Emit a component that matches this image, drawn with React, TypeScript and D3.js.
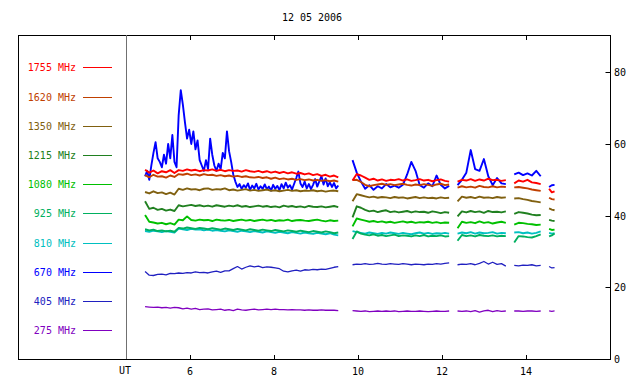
import React from 'react';
import * as d3 from 'd3';

// UT hours (start, end) of each observing segment
const segments: [number, number][] = [
  [4.93, 9.53],
  [9.87, 12.17],
  [12.37, 13.52],
  [13.72, 14.35],
  [14.55, 14.68],
];

const xTicks = [6, 8, 10, 12, 14];
const yTicks = [0, 20, 40, 60, 80];

const freqs = ['1755', '1620', '1350', '1215', '1080', '925', '810', '670', '405', '275'];
const colors = ['#ff0000', '#c04000', '#806010', '#208020', '#00c000', '#00b060', '#00c0c0', '#0000ff', '#2020c0', '#8000c0'];

const f1755 = [
  [52.8, 52.0, 52.6, 51.8, 52.4, 52.1, 52.7, 51.9,
    52.7, 52.5, 52.9, 52.6, 52.8, 52.4, 52.7, 52.6, 52.9, 52.5,
    52.8, 52.4, 52.7, 52.5, 52.6, 52.3, 52.7, 52.4, 52.2, 52.5,
    52.1, 52.4, 52.0, 52.3, 51.9, 52.2, 51.8, 52.1, 51.7, 51.9,
    51.5, 51.8, 51.3, 51.6, 51.1, 51.4, 50.9, 51.2, 50.7],
  [49.8, 51.6, 51.2, 50.6, 50.0, 50.3, 49.8, 50.1, 49.7, 50.0, 49.9, 50.2, 49.8, 50.1, 49.7, 49.9, 50.2, 49.8, 50.0, 49.6, 49.9, 50.1, 49.7, 49.5],
  [49.5, 50.0, 49.8, 50.2, 49.7, 50.1, 49.8, 50.3, 49.9, 50.0, 49.7, 49.9],
  [49.0, 49.8, 49.5, 50.0, 49.3, 49.1, 48.8],
  [47.5, 46.5, 46.8],
];

const f1620 = [
  [51.3, 50.7, 51.4, 50.9, 51.0, 50.6, 51.2, 50.8,
    51.6, 51.4, 51.7, 51.3, 51.5, 51.2, 51.6, 51.3, 51.4, 51.1,
    51.3, 51.0, 51.2, 50.9, 51.1, 50.8, 51.0, 50.7, 50.6, 50.8,
    50.5, 50.7, 50.3, 50.6, 50.2, 50.4, 50.1, 50.3, 50.0, 50.2,
    49.9, 50.1, 49.8, 50.0, 49.7, 49.9, 49.6, 49.8, 49.5],
  [49.9, 50.0, 49.4, 48.6, 48.2, 48.5, 48.7, 48.9, 48.6, 48.8, 48.5, 48.7, 48.9, 48.6, 48.4, 48.7, 48.5, 48.8, 48.6, 48.3, 48.7, 48.9, 48.5, 48.7],
  [47.8, 48.2, 47.9, 48.1, 47.8, 48.3, 48.0, 47.9, 48.2, 47.9, 48.1, 48.0],
  [47.9, 48.0, 47.8, 47.6, 47.3, 47.1, 46.9],
  [45.0, 44.6, 44.5],
];

const f1350 = [
  [46.6, 46.2, 46.8, 46.3, 46.5, 46.0, 46.4, 45.9,
    47.5, 47.2, 47.6, 47.3, 47.4, 47.1, 47.5, 47.6, 47.2, 47.4,
    47.3, 47.6, 47.1, 47.3, 47.0, 47.2, 47.4, 47.0, 47.2, 46.9,
    47.1, 47.3, 46.9, 47.1, 46.8, 47.0, 47.2, 46.9, 47.1, 46.8,
    47.0, 46.9, 47.1, 46.8, 47.0, 46.7, 46.9, 47.0, 46.8],
  [44.0, 46.0, 45.7, 45.4, 45.1, 45.3, 45.0, 45.2, 45.1, 44.9, 45.2, 45.0, 45.1, 44.8, 45.0, 45.2, 44.9, 45.1, 44.9, 45.0, 44.8, 45.1, 44.9, 45.0],
  [44.0, 45.3, 45.0, 45.2, 44.9, 45.3, 45.0, 45.1, 44.9, 45.2, 45.0, 45.1],
  [44.8, 44.9, 44.6, 44.4, 44.1, 43.9, 43.7],
  [42.0, 41.7, 41.5],
];

const f1215 = [
  [44.0, 41.9, 42.2, 41.6, 41.9, 41.4, 41.7, 41.3,
    42.9, 42.6, 42.8, 43.0, 42.7, 42.9, 42.6, 42.8, 42.5, 42.9,
    42.7, 42.5, 42.8, 42.6, 42.9, 42.5, 42.7, 42.4, 42.6, 42.8,
    42.5, 42.7, 42.4, 42.6, 42.3, 42.8, 42.5, 42.7, 42.4, 42.6,
    42.3, 42.7, 42.5, 42.4, 42.6, 42.3, 42.5, 42.7, 42.4],
  [39.5, 42.6, 42.2, 41.6, 41.2, 41.4, 41.0, 41.3, 41.5, 41.0, 41.2, 40.9, 41.1, 41.3, 40.9, 41.2, 41.0, 41.1, 40.8, 41.2, 41.0, 40.7, 41.0, 40.8],
  [39.8, 41.2, 40.9, 41.3, 41.0, 41.2, 40.8, 41.3, 41.0, 41.1, 40.9, 41.2],
  [40.5, 41.0, 40.8, 40.6, 40.3, 40.1, 40.2],
  [38.8, 38.6, 38.5],
];

const f1080 = [
  [40.2, 38.3, 38.1, 37.8, 38.0, 37.6, 37.9, 37.5,
    38.9, 38.7, 39.8, 38.8, 38.6, 38.9, 38.7, 38.8, 38.5, 38.9,
    38.7, 38.6, 38.8, 38.5, 38.7, 38.9, 38.6, 38.8, 38.5, 38.7,
    38.9, 38.6, 38.8, 38.5, 38.7, 38.6, 38.9, 38.5, 38.7, 38.8,
    38.6, 38.5, 38.7, 38.9, 38.6, 38.4, 38.7, 38.5, 38.6],
  [37.0, 39.2, 38.9, 38.6, 38.3, 38.5, 38.2, 38.4, 38.1, 38.3, 38.0, 38.2, 38.4, 38.1, 38.3, 38.0, 38.2, 38.1, 38.3, 38.0, 38.2, 37.9, 38.1, 38.0],
  [36.5, 38.3, 38.0, 38.2, 37.9, 38.4, 38.0, 38.2, 37.8, 38.1, 38.3, 38.0],
  [37.5, 38.0, 37.9, 37.7, 37.6, 37.4, 37.5],
  [36.3, 36.0, 36.1],
];

const f925 = [
  [36.2, 35.9, 36.1, 35.7, 35.9, 35.6, 35.8, 35.5,
    36.6, 36.4, 36.7, 36.5, 36.3, 36.6, 36.4, 36.2, 36.5, 36.3,
    36.1, 36.4, 36.2, 36.0, 36.3, 36.1, 35.9, 36.2, 36.0, 35.8,
    36.1, 35.9, 35.7, 36.0, 35.8, 35.6, 35.9, 35.7, 35.5, 35.8,
    35.6, 35.4, 35.7, 35.5, 35.3, 35.6, 35.4, 35.1, 35.3],
  [33.5, 35.6, 35.0, 34.7, 34.5, 34.8, 34.4, 34.6, 34.3, 34.5, 34.7, 34.3, 34.5, 34.4, 34.2, 34.5, 34.3, 34.6, 34.2, 34.4, 34.3, 34.5, 34.2, 34.3],
  [33.0, 34.6, 34.3, 34.5, 34.2, 34.6, 34.4, 34.3, 34.5, 34.2, 34.4, 34.3],
  [32.5, 34.3, 34.2, 34.0, 33.9, 34.3, 34.8],
  [34.2, 34.5, 35.0],
];

const f810 = [
  [35.7, 35.5, 35.8, 35.6, 35.4, 35.7, 35.5, 35.3,
    36.4, 36.2, 36.0, 36.3, 36.1, 36.2, 35.9, 36.1, 35.8, 36.0,
    35.8, 35.6, 35.9, 35.7, 35.5, 35.8, 35.6, 35.4, 35.7, 35.5,
    35.3, 35.6, 35.4, 35.2, 35.5, 35.3, 35.1, 35.4, 35.2, 35.0,
    35.3, 35.1, 34.9, 35.2, 35.0, 34.8, 35.1, 34.7, 34.5],
  [35.7, 35.4, 35.2, 35.0, 35.3, 35.1, 34.9, 35.2, 35.0, 35.3, 35.1, 34.9, 35.2, 35.0, 34.8, 35.1, 35.3, 35.0, 35.2, 34.9, 35.1, 35.0, 35.2, 35.0],
  [35.0, 35.3, 35.1, 35.4, 35.0, 35.3, 35.1, 35.2, 35.4, 35.0, 35.2, 35.1],
  [35.3, 35.4, 35.1, 35.3, 35.0, 35.2, 35.6],
  [35.2, 35.0, 35.1],
];

const f670 = [
  [51.0, 52.5, 50.0, 54.0, 57.5, 60.5, 56.0, 55.0, 53.5, 57.0,
    54.5, 60.0, 56.0, 62.5, 55.0, 53.5, 68.0, 75.0, 71.0, 66.0,
    61.5, 64.0, 60.0, 63.5, 58.5, 61.0, 55.5, 54.0, 52.5, 55.5,
    53.0, 61.5, 57.0, 54.0, 52.5, 54.5, 53.0, 57.5, 56.0, 63.5,
    58.0, 55.0, 51.5, 49.5, 48.0, 48.8, 47.5, 48.5, 47.8, 49.0,
    47.2, 48.4, 47.6, 48.9, 47.3, 48.2, 47.5, 48.7, 47.4, 48.1,
    47.0, 48.6, 47.5, 48.3, 47.1, 48.8, 47.6, 49.2, 47.8, 48.5,
    47.3, 48.9, 50.5, 52.3, 49.0, 48.0, 49.5, 47.6, 48.8, 47.4,
    48.6, 50.2, 48.1, 49.6, 51.0, 48.7, 50.4, 48.2, 49.3, 48.0,
    49.1, 47.6, 48.4],
  [55.5, 52.0, 49.5, 47.5, 48.5, 47.2, 48.2, 47.6, 48.8, 47.9, 48.4, 47.8, 48.6, 51.5, 55.0, 52.5, 48.5, 47.8, 49.0, 48.2, 51.2, 48.6, 47.6, 48.3],
  [48.5, 50.0, 52.0, 58.3, 53.0, 52.5, 55.8, 51.0, 48.5, 50.5, 49.0, 48.8],
  [51.5, 52.0, 51.3, 51.8, 51.2, 52.5, 51.0],
  [48.0, 48.5, 48.6],
];

const f405 = [
  [24.4, 23.4, 23.3, 23.6, 23.7, 23.5, 23.9, 23.8, 24.0, 23.9,
    24.1, 24.0, 24.3, 24.1, 24.2, 24.0, 24.3, 24.5, 24.2, 24.6,
    24.6, 25.2, 25.8, 25.1, 25.6, 26.0, 25.7, 25.9, 25.5, 25.7,
    25.6, 25.4, 25.2, 24.5, 24.3, 24.6, 24.8, 24.5, 24.9, 24.8,
    25.0, 24.9, 25.1, 25.0, 25.3, 25.6, 25.8],
  [26.3, 26.5, 26.4, 26.6, 26.4, 26.5, 26.7, 26.5, 26.4, 26.6, 26.5, 26.4, 26.6, 26.5, 26.3, 26.5, 26.4, 26.3, 26.5, 26.4, 26.6, 26.5, 26.7, 26.8],
  [26.3, 26.5, 26.4, 26.6, 26.3, 26.7, 27.2, 26.5, 27.0, 26.4, 26.6, 25.9],
  [26.1, 26.0, 26.2, 26.1, 26.3, 26.0, 26.1],
  [25.8, 25.4, 25.5],
];

const f275 = [
  [14.6, 14.5, 14.4, 14.5, 14.3, 14.4, 14.2, 14.4, 14.3, 14.0,
    14.2, 13.9, 14.1, 13.8, 13.9, 14.0, 13.7, 13.8, 13.9, 13.6,
    13.8, 13.5, 13.9, 13.7, 13.6, 13.8, 13.9, 13.7, 13.8, 13.9,
    13.8, 13.9, 13.8, 13.8, 13.7, 13.8, 13.7, 13.7, 13.6, 13.7,
    13.6, 13.6, 13.7, 13.6, 13.6, 13.6, 13.5],
  [13.5, 13.4, 13.3, 13.4, 13.2, 13.3, 13.4, 13.3, 13.4, 13.3, 13.4, 13.2, 13.3, 13.4, 13.3, 13.3, 13.4, 13.3, 13.2, 13.3, 13.4, 13.3, 13.3, 13.4],
  [13.4, 13.3, 13.4, 13.2, 13.5, 13.1, 13.4, 13.6, 13.2, 13.5, 13.3, 13.4],
  [13.4, 13.4, 13.3, 13.4, 13.4, 13.3, 13.4],
  [13.4, 13.3, 13.4],
];

const seriesValues = [f1755, f1620, f1350, f1215, f1080, f925, f810, f670, f405, f275];

const W = 640;
const H = 384;
const frame = { left: 18, right: 610.5, top: 35, bottom: 359 };
const plotLeft = 126;

const x = d3.scaleLinear().domain([6, 14]).range([190, 526]);
const y = d3.scaleLinear().domain([0, 80]).range([359, 72.3]);

const line = d3.line<[number, number]>()
  .x(d => x(d[0]))
  .y(d => y(d[1]));

function segPath(vals: number[], span: [number, number]) {
  const [t0, t1] = span;
  const n = vals.length;
  const pts = vals.map((v, i) => [t0 + (i * (t1 - t0)) / (n - 1), v] as [number, number]);
  return line(pts) || '';
}

const font = "'DejaVu Sans Mono', monospace";

export default function App() {
  // draw low frequencies first so the top channels sit on top
  const drawOrder = d3.range(freqs.length).reverse();
  return (
    <svg
      width={W}
      height={H}
      style={{ position: 'absolute', left: 0, top: 0, background: '#fff' }}
      fontFamily={font}
      fontSize={10}
    >
      <text x={312} y={21} textAnchor="middle" fill="#000">12 05 2006</text>

      {/* frame */}
      <rect x={frame.left + 0.5} y={frame.top + 0.5} width={frame.right - frame.left - 0.5}
        height={frame.bottom - frame.top} fill="none" stroke="#000" strokeWidth={1} />
      <line x1={plotLeft + 0.5} x2={plotLeft + 0.5} y1={frame.top} y2={frame.bottom}
        stroke="#707070" strokeWidth={1} />

      {/* x ticks */}
      {xTicks.map(t => (
        <g key={t}>
          <line x1={x(t) + 0.5} x2={x(t) + 0.5} y1={frame.top} y2={frame.top + 5} stroke="#000" />
          <line x1={x(t) + 0.5} x2={x(t) + 0.5} y1={frame.bottom} y2={frame.bottom - 4} stroke="#000" />
          <text x={x(t)} y={375} textAnchor="middle" fill="#000">{t}</text>
        </g>
      ))}
      <text x={plotLeft - 1} y={374} textAnchor="middle" fill="#000">UT</text>

      {/* y axis on right */}
      {yTicks.map(v => (
        <g key={v}>
          <line x1={frame.right - 5} x2={frame.right} y1={Math.round(y(v)) + 0.5} y2={Math.round(y(v)) + 0.5} stroke="#000" />
          <text x={614} y={y(v) + 4} fill="#000">{v}</text>
        </g>
      ))}

      {/* legend */}
      {freqs.map((f, i) => {
        const ly = 67.3 + i * 29.2;
        return (
          <g key={f}>
            <text x={76} y={ly + 4} textAnchor="end" fill={colors[i]}>{`${f} MHz`}</text>
            <line x1={83} x2={112} y1={Math.round(ly) + 0.5} y2={Math.round(ly) + 0.5}
              stroke={colors[i]} strokeWidth={1} />
          </g>
        );
      })}

      {/* data */}
      <g fill="none" strokeLinejoin="round">
        {drawOrder.map(i => (
          <g key={freqs[i]} stroke={colors[i]} strokeWidth={i >= 8 ? 1.3 : 1.9}>
            {seriesValues[i].map((vals, s) => (
              <path key={s} d={segPath(vals, segments[s])} />
            ))}
          </g>
        ))}
      </g>
    </svg>
  );
}
